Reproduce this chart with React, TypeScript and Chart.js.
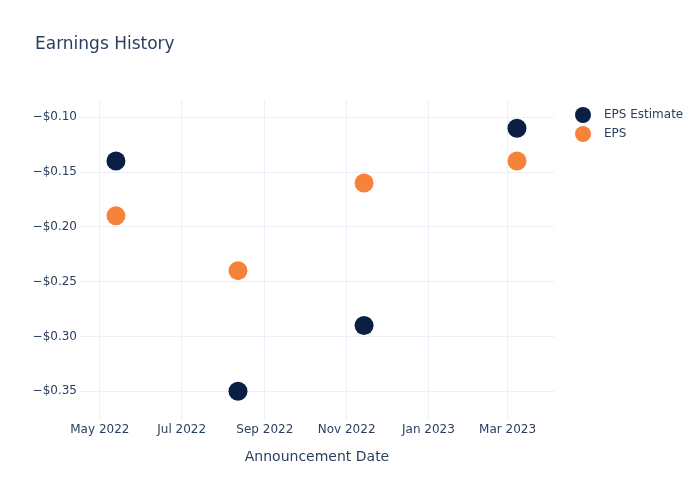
import React, { useEffect, useRef } from "react";
import { Chart, registerables } from "chart.js";

Chart.register(...registerables);

const dates = ["2022-05-13", "2022-08-12", "2022-11-14", "2023-03-08"];
const epsEstimate = [-0.14, -0.35, -0.29, -0.11];
const eps = [-0.19, -0.24, -0.16, -0.14];
const tickDates = ["2022-05-01", "2022-07-01", "2022-09-01", "2022-11-01", "2023-01-01", "2023-03-01"];
const tickLabels = ["May 2022", "Jul 2022", "Sep 2022", "Nov 2022", "Jan 2023", "Mar 2023"];
const yTicks = [-0.35, -0.3, -0.25, -0.2, -0.15, -0.1];
const seriesNames = ["EPS Estimate", "EPS"];
const colors = ["#0b1f45", "#f7823a"];

const FONT = "'DejaVu Sans', sans-serif";
const TEXT = "#2a3f5f";
const DAY = 86400000;
const ts = (d: string) => Date.parse(d + "T00:00:00Z");

const overlay = {
  id: "overlay",
  afterDraw(chart: any) {
    const ctx = chart.ctx;
    ctx.save();
    ctx.fillStyle = TEXT;
    ctx.font = `17px ${FONT}`;
    ctx.textBaseline = "middle";
    ctx.textAlign = "left";
    ctx.fillText("Earnings History", 35, 45);
    ctx.font = `12px ${FONT}`;
    seriesNames.forEach((n, i) => {
      const y = 115 + i * 19;
      ctx.beginPath();
      ctx.arc(583, y, 8, 0, Math.PI * 2);
      ctx.fillStyle = colors[i];
      ctx.fill();
      ctx.fillStyle = TEXT;
      ctx.fillText(n, 604, y);
    });
    ctx.restore();
  },
};

export default function App() {
  const ref = useRef<HTMLCanvasElement>(null);
  useEffect(() => {
    document.body.style.margin = "0";
    const c = new Chart(ref.current!, {
      type: "scatter",
      data: {
        datasets: [
          {
            label: seriesNames[0],
            data: dates.map((d, i) => ({ x: ts(d), y: epsEstimate[i] })),
            backgroundColor: colors[0],
            borderColor: colors[0],
            pointRadius: 9.5,
            pointBorderWidth: 0,
          },
          {
            label: seriesNames[1],
            data: dates.map((d, i) => ({ x: ts(d), y: eps[i] })),
            backgroundColor: colors[1],
            borderColor: colors[1],
            pointRadius: 9.5,
            pointBorderWidth: 0,
          },
        ],
      },
      options: {
        animation: false,
        responsive: false,
        layout: { padding: { top: 100, right: 146, left: 0, bottom: 34 } },
        plugins: { legend: { display: false }, title: { display: false }, tooltip: { enabled: false } },
        scales: {
          x: {
            type: "linear",
            min: ts("2022-05-01") - 14.8 * DAY,
            max: ts("2022-05-01") + 338.6 * DAY,
            afterFit: (s: any) => { s.height = 46; },
            afterBuildTicks: (s: any) => { s.ticks = tickDates.map((d) => ({ value: ts(d) })); },
            grid: { color: "#ebf0f8", drawTicks: false },
            border: { display: false },
            ticks: {
              color: TEXT,
              font: { family: FONT, size: 12 },
              padding: 3,
              maxRotation: 0,
              callback: (v: any) => {
                const i = tickDates.findIndex((d) => ts(d) === v);
                return i >= 0 ? tickLabels[i] : "";
              },
            },
            title: {
              display: true,
              text: "Announcement Date",
              color: TEXT,
              font: { family: FONT, size: 14 },
              padding: { top: 4, bottom: 0 },
            },
          },
          y: {
            min: -0.3763,
            max: -0.0843,
            afterFit: (s: any) => { s.width = 80; },
            afterBuildTicks: (s: any) => { s.ticks = yTicks.map((v) => ({ value: v })); },
            grid: { color: "#ebf0f8", drawTicks: false },
            border: { display: false },
            ticks: {
              color: TEXT,
              font: { family: FONT, size: 12 },
              padding: 3,
              callback: (v: any) => "\u2212$" + Math.abs(v).toFixed(2),
            },
          },
        },
      },
      plugins: [overlay],
    } as any);
    return () => c.destroy();
  }, []);
  return (
    <div style={{ width: 700, height: 500, background: "#fff" }}>
      <canvas ref={ref} width={700} height={500} />
    </div>
  );
}
